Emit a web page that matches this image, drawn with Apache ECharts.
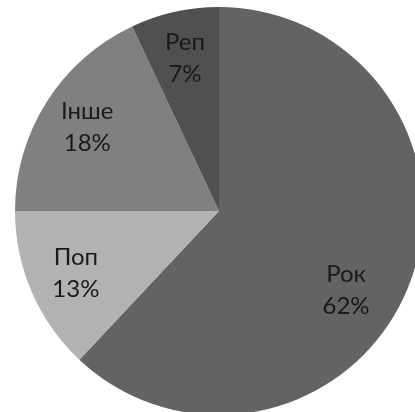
<!DOCTYPE html>
<html>
<head>
<meta charset="utf-8">
<script src="https://cdn.jsdelivr.net/npm/echarts@6/dist/echarts.min.js"></script>
<style>
html,body{margin:0;padding:0;background:#fff;}
#c{width:415px;height:412px;}
</style>
</head>
<body>
<div id="c"></div>
<script>
const categories = ['Рок', 'Поп', 'Інше', 'Реп'];
const values = [62, 13, 18, 7];
const colors = ['#636363', '#b2b2b2', '#808080', '#505050'];

const chart = echarts.init(document.getElementById('c'), null, {renderer: 'canvas'});
const center = [219, 211];
const R = 204;

const pieData = categories.map((name, i) => ({
  name, value: values[i], itemStyle: {color: colors[i]}
}));
const labelData = categories.map((name, i) => ({
  name, value: values[i],
  label: i === 0 ? {offset: [-18, 22]} : {}
}));

chart.setOption({
  animation: false,
  backgroundColor: '#ffffff',
  series: [
    {
      type: 'pie',
      center: center,
      radius: [0, R],
      startAngle: 90,
      clockwise: true,
      silent: true,
      label: {show: false},
      labelLine: {show: false},
      itemStyle: {borderWidth: 0},
      data: pieData
    },
    {
      type: 'pie',
      center: center,
      radius: [R * 0.5, R],
      startAngle: 90,
      clockwise: true,
      silent: true,
      itemStyle: {color: 'rgba(0,0,0,0)', borderWidth: 0},
      label: {
        show: true,
        position: 'inside',
        formatter: '{b}\n{c}%',
        fontFamily: 'Lato, "Open Sans", sans-serif',
        fontSize: 24,
        lineHeight: 32,
        color: '#1a1a1a',
        align: 'center'
      },
      labelLine: {show: false},
      data: labelData
    }
  ]
});
</script>
</body>
</html>
